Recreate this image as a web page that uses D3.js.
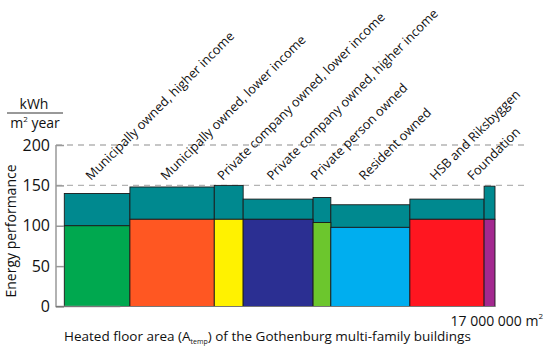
<!DOCTYPE html>
<html>
<head>
<meta charset="utf-8">
<script src="https://cdn.jsdelivr.net/npm/d3@7"></script>
<style>
  html, body { margin: 0; padding: 0; background: #fff; }
  svg { display: block; font-family: "Open Sans", sans-serif; }
</style>
</head>
<body>
<svg id="chart" width="550" height="353"></svg>
<script>
// ---- data ----
const categories = [
  "Municipally owned, higher income",
  "Municipally owned, lower income",
  "Private company owned, lower income",
  "Private company owned, higher income",
  "Private person owned",
  "Resident owned",
  "HSB and Riksbyggen",
  "Foundation"
];
// heated floor area per owner category (m²)
const floorArea = [2590000, 3330000, 1140000, 2760000, 700000, 3120000, 2930000, 430000];
// energy performance (kWh / m² year)
const baseEnergy = [100, 108, 108, 108, 104, 98, 108, 108];
const totalEnergy = [140, 148, 150, 133, 135, 126, 133, 149];
const barColors = ["#00A84F", "#FF5722", "#FFF200", "#2B2F92", "#6CC62D", "#00AEEF", "#FF1620", "#A3288F"];
const topColor = "#00898F";
const yTicks = [0, 50, 100, 150, 200];
const gridValues = [150, 200];
const totalArea = 17000000;

// ---- layout ----
const svg = d3.select("#chart");
const axisX = 56;
const x = d3.scaleLinear().domain([0, totalArea]).range([64.3, 495]);
const y = d3.scaleLinear().domain([0, 200]).range([306.5, 145]);

// cumulative positions
const starts = [];
let acc = 0;
floorArea.forEach(a => { starts.push(acc); acc += a; });
const bars = categories.map((c, i) => ({
  name: c, x0: starts[i], x1: starts[i] + floorArea[i],
  base: baseEnergy[i], total: totalEnergy[i], color: barColors[i]
}));

// dashed grid
svg.append("g").selectAll("line").data(gridValues).join("line")
  .attr("x1", axisX).attr("x2", 525)
  .attr("y1", d => y(d)).attr("y2", d => y(d))
  .attr("stroke", "#b4b4b4").attr("stroke-width", 1.3)
  .attr("stroke-dasharray", "6,5");

// bars: top (teal) segment and base segment
const g = svg.append("g");
g.selectAll("rect.top").data(bars).join("rect").attr("class", "top")
  .attr("x", d => x(d.x0)).attr("width", d => x(d.x1) - x(d.x0))
  .attr("y", d => y(d.total)).attr("height", d => y(d.base) - y(d.total))
  .attr("fill", topColor).attr("stroke", "#1a1a1a").attr("stroke-width", 0.9);
g.selectAll("rect.base").data(bars).join("rect").attr("class", "base")
  .attr("x", d => x(d.x0)).attr("width", d => x(d.x1) - x(d.x0))
  .attr("y", d => y(d.base)).attr("height", d => y(0) - y(d.base))
  .attr("fill", d => d.color).attr("stroke", "#1a1a1a").attr("stroke-width", 0.9);

// y axis
const yAxis = d3.axisLeft(y).tickValues(yTicks).tickSize(-8).tickPadding(6).tickFormat(d3.format("d"));
const ya = svg.append("g").attr("transform", `translate(${axisX},0)`).call(yAxis);
ya.select(".domain").attr("stroke", "#999").attr("stroke-width", 1.5).attr("d", `M0,${y(200)}V${y(0)}H${x(0)}`);
ya.selectAll(".tick line").attr("stroke", "#999").attr("stroke-width", 1.5);
ya.selectAll(".tick text").attr("font-size", 16).attr("fill", "#111").attr("font-family", "Open Sans, sans-serif");
// bottom axis line along the bar bottoms
svg.append("line").attr("x1", axisX).attr("x2", x(totalArea))
  .attr("y1", y(0)).attr("y2", y(0)).attr("stroke", "#777").attr("stroke-width", 1.2);

// rotated category labels (shifted left when they would run past the right edge)
const labelRight = 521;
const labels = svg.append("g").selectAll("text").data(bars).join("text")
  .attr("font-size", 12.8).attr("fill", "#111")
  .text(d => d.name);
labels.each(function(d) {
  const len = this.getComputedTextLength() * Math.SQRT1_2;
  const cx = Math.min((x(d.x0) + x(d.x1)) / 2 - 6, labelRight - len);
  d3.select(this).attr("transform", `translate(${cx},181) rotate(-45)`);
});

// y title
svg.append("text").attr("transform", "translate(16,231) rotate(-90)")
  .attr("text-anchor", "middle").attr("font-size", 14).attr("fill", "#111")
  .text("Energy performance");

// unit fraction
svg.append("text").attr("x", 34).attr("y", 109).attr("text-anchor", "middle")
  .attr("font-size", 14).attr("fill", "#111").text("kWh");
svg.append("line").attr("x1", 7).attr("x2", 63).attr("y1", 113).attr("y2", 113)
  .attr("stroke", "#333").attr("stroke-width", 1);
const unit = svg.append("text").attr("x", 35).attr("y", 128).attr("text-anchor", "middle")
  .attr("font-size", 14).attr("fill", "#111");
unit.append("tspan").text("m");
unit.append("tspan").attr("font-size", 8).attr("dy", -6).text("2");
unit.append("tspan").attr("dy", 6).text(" year");

// x title
const xt = svg.append("text").attr("x", 64).attr("y", 341).attr("font-size", 13.5).attr("fill", "#111");
xt.append("tspan").text("Heated floor area (A");
xt.append("tspan").attr("font-size", 7).attr("dy", 3).text("temp");
xt.append("tspan").attr("dy", -3).text(") of the Gothenburg multi-family buildings");

// total area label
const tot = svg.append("text").attr("x", 543).attr("y", 326).attr("text-anchor", "end")
  .attr("font-size", 14).attr("fill", "#111");
tot.append("tspan").text("17 000 000 m");
tot.append("tspan").attr("font-size", 8).attr("dy", -7).text("2");
</script>
</body>
</html>
